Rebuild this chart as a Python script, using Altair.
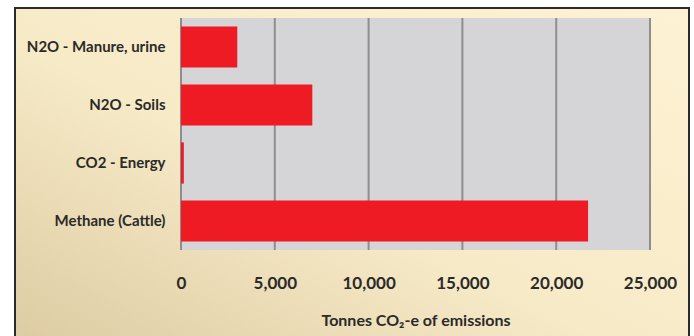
import altair as alt
import pandas as pd

categories = ["N2O - Manure, urine", "N2O - Soils", "CO2 - Energy", "Methane (Cattle)"]
values = [3000, 7000, 150, 21700]
tick_values = [0, 5000, 10000, 15000, 20000, 25000]

bars_df = pd.DataFrame({"category": categories, "value": values})
grid_df = pd.DataFrame({"tick": tick_values})

W, H = 469, 232
xscale = alt.Scale(domain=[0, 25000], nice=False, zero=True)
yscale = alt.Scale(domain=categories, paddingInner=0.29, paddingOuter=0.145)

x_axis = alt.Axis(values=tick_values, format=",.0f", grid=False, domain=False, ticks=False,
                  labelFont="Lato", labelFontWeight="bold", labelFontSize=17,
                  labelColor="#2a2a2a", labelPadding=25, labelFlush=False,
                  labelOverlap=False, labelBound=False,
                  title="Tonnes CO₂-e of emissions", titleFont="Lato",
                  titleFontWeight="bold", titleFontSize=16, titleColor="#2a2a2a",
                  titlePadding=21, zindex=1)

# decorative gradient panel and frame (positions relative to plot origin)
panel = alt.Chart(pd.DataFrame({"k": [0]})).mark_rect(
    fill={"gradient": "linear", "x1": 1, "y1": 0, "x2": 0, "y2": 1,
          "stops": [{"offset": 0, "color": "#fdf2d4"},
                    {"offset": 0.55, "color": "#f7eac7"},
                    {"offset": 1, "color": "#dccba2"}]},
).encode(x=alt.value(-166), x2=alt.value(508), y=alt.value(-10), y2=alt.value(330))

plot_bg = alt.Chart(pd.DataFrame({"a": [0], "b": [25000]})).mark_rect(color="#d5d5d7").encode(
    x=alt.X("a:Q", scale=xscale, axis=x_axis), x2="b:Q",
    y=alt.value(0), y2=alt.value(H))

grid = alt.Chart(grid_df).mark_rule(color="#8e8e8e", strokeWidth=2).encode(
    x=alt.X("tick:Q", scale=xscale, axis=x_axis),
    y=alt.value(0), y2=alt.value(H))

bars = alt.Chart(bars_df).mark_bar(color="#ee1b24").encode(
    x=alt.X("value:Q", scale=xscale, axis=x_axis),
    y=alt.Y("category:N", scale=yscale, sort=categories,
            axis=alt.Axis(title=None, domain=False, ticks=False, grid=False,
                          labelFont="Lato", labelFontWeight="bold", labelFontSize=15,
                          labelColor="#2a2a2a", labelPadding=16, zindex=1)),
)

frame = alt.Chart(pd.DataFrame({"k": [0]})).mark_rect(
    fill="transparent", stroke="#2b2b2b", strokeWidth=2,
).encode(x=alt.value(-166), x2=alt.value(508), y=alt.value(-10), y2=alt.value(330))

chart = alt.layer(panel, plot_bg, grid, bars, frame).properties(
    width=W, height=H,
    autosize=alt.AutoSizeParams(type="none"),
    padding={"left": 181, "top": 18, "right": 44, "bottom": 86},
    background="white",
).configure_view(stroke=None)

chart.save("out.html", embed_options={"renderer": "svg", "actions": False})
